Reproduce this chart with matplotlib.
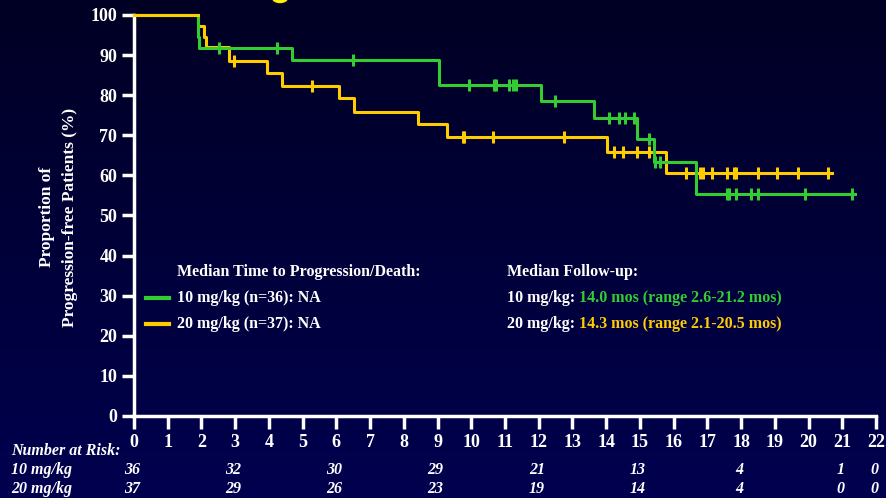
import numpy as np
import matplotlib
matplotlib.use("Agg")
import matplotlib.pyplot as plt
from matplotlib.patches import Ellipse

# Kaplan-Meier step data (months, % progression-free)
g_times = [0, 1.90, 1.93, 4.67, 9.04, 12.07, 13.63, 14.92, 15.42, 16.66]
g_surv = [100, 94.4, 91.7, 88.9, 82.6, 78.5, 74.3, 69.2, 63.3, 55.4]
g_end = 21.38
g_cens = [2.52, 4.23, 6.50, 9.93, 10.68, 10.72, 11.13, 11.25, 11.34, 12.49,
          14.09, 14.38, 14.57, 14.81, 15.26, 15.46, 15.59, 17.57, 17.65,
          17.85, 18.28, 18.49, 19.89, 21.28]

y_times = [0, 1.91, 2.08, 2.13, 2.81, 3.93, 4.39, 6.07, 6.52, 8.41, 9.28,
           14.02, 15.76]
y_surv = [100, 97.3, 94.6, 91.9, 88.6, 85.5, 82.4, 79.3, 75.9, 72.9, 69.7,
          65.8, 60.6]
y_end = 20.70
y_cens = [2.96, 5.27, 9.74, 9.78, 10.63, 12.75, 14.22, 14.51, 14.90, 15.26,
          16.37, 16.78, 16.88, 17.14, 17.58, 17.80, 17.85, 18.49, 19.06,
          19.68, 20.58]

risk_months = [0, 3, 6, 9, 12, 15, 18, 21, 22]
risk_10 = [36, 32, 30, 29, 21, 13, 4, 1, 0]
risk_20 = [37, 29, 26, 23, 19, 14, 4, 0, 0]

x_ticks = list(range(0, 23))
y_ticks = list(range(0, 101, 10))

GREEN = "#33cc33"
YELLOW = "#ffcc00"
SERIF = "Liberation Serif"

W, H = 886, 498
fig = plt.figure(figsize=(W / 100, H / 100), dpi=100)

# navy gradient background
bg = fig.add_axes([0, 0, 1, 1])
grad = np.linspace(0, 1, 256)[:, None]
top = np.array([0.0, 0.0, 0.14])
bot = np.array([0.0, 0.0, 0.31])
img = top[None, None, :] * (1 - grad[..., None]) + bot[None, None, :] * grad[..., None]
bg.imshow(img, aspect="auto", extent=[0, 1, 1, 0])
bg.set_xlim(0, 1)
bg.set_ylim(1, 0)
bg.axis("off")
# lower edge of the yellow heading glyph peeking in at the top
bg.add_patch(Ellipse((280 / W, -2 / H), 15 / W, 9 / H, color="#ffee00"))

ax = fig.add_axes([134 / W, 1 - 416 / H, (876 - 134) / W, (416 - 15) / H])
ax.set_facecolor("none")
ax.set_xlim(0, 22)
ax.set_ylim(0, 100)


def km(ax, times, surv, end, cens, color):
    xs = list(times) + [end]
    ys = list(surv) + [surv[-1]]
    ax.step(xs, ys, where="post", color=color, lw=2.2, clip_on=False, zorder=3)
    cy = [surv[np.searchsorted(times, c, side="right") - 1] for c in cens]
    ax.plot(cens, cy, linestyle="none", marker="|", markersize=8,
            markeredgewidth=2.2, color=color, clip_on=False, zorder=4)


km(ax, y_times, y_surv, y_end, y_cens, YELLOW)
km(ax, g_times, g_surv, g_end, g_cens, GREEN)
# redraw the shared start so the yellow plateau sits on top
ax.plot([0, 1.91], [100, 100], color=YELLOW, lw=2.2, clip_on=False, zorder=5)

for s in ["top", "right"]:
    ax.spines[s].set_visible(False)
for s in ["left", "bottom"]:
    ax.spines[s].set_color("white")
    ax.spines[s].set_linewidth(2.5)

ax.set_xticks(x_ticks)
ax.set_yticks(y_ticks)
ax.tick_params(colors="white", width=2.5, length=9, direction="out")
ax.tick_params(axis="x", pad=4)
ax.tick_params(axis="y", pad=3)
for lab in ax.get_xticklabels() + ax.get_yticklabels():
    lab.set_fontfamily(SERIF)
    lab.set_fontweight("bold")
    lab.set_fontsize(13)
    lab.set_color("white")

# y-axis title (two lines)
fig.text(47 / W, 1 - 217 / H, "Proportion of", rotation=90, ha="center",
         va="center", color="white", fontsize=12.5, fontweight="bold",
         family=SERIF)
fig.text(70 / W, 1 - 217 / H, "Progression-free Patients (%)", rotation=90,
         ha="center", va="center", color="white", fontsize=12.5,
         fontweight="bold", family=SERIF)

# legend block
tkw = dict(color="white", fontsize=11.5, fontweight="bold", family=SERIF,
           va="center")
fig.text(177 / W, 1 - 272 / H, "Median Time to Progression/Death:", **tkw)
fig.text(177 / W, 1 - 298 / H, "10 mg/kg (n=36): NA", **tkw)
fig.text(177 / W, 1 - 324 / H, "20 mg/kg (n=37): NA", **tkw)
bg.plot([146 / W, 169 / W], [298 / H, 298 / H], color=GREEN, lw=3)
bg.plot([146 / W, 169 / W], [324 / H, 324 / H], color=YELLOW, lw=3)

fig.text(507 / W, 1 - 272 / H, "Median Follow-up:", **tkw)
for yy, dose, detail, col in [(298, "10 mg/kg: ", "14.0 mos (range 2.6-21.2 mos)", GREEN),
                              (324, "20 mg/kg: ", "14.3 mos (range 2.1-20.5 mos)", YELLOW)]:
    t = fig.text(507 / W, 1 - yy / H, dose, **tkw)
    fig.canvas.draw()
    bb = t.get_window_extent()
    fig.text(bb.x1 / W, 1 - yy / H, detail, **{**tkw, "color": col})

# number at risk table
rkw = dict(color="white", fontsize=11.5, fontweight="bold", style="italic",
           family=SERIF, va="center")
fig.text(11 / W, 1 - 451 / H, "Number at Risk:", **rkw)
fig.text(11 / W, 1 - 470 / H, "10 mg/kg", **rkw)
fig.text(11 / W, 1 - 489 / H, "20 mg/kg", **rkw)
for m, a, b in zip(risk_months, risk_10, risk_20):
    xpix = 134 + m * (876 - 134) / 22 - 2
    fig.text(xpix / W, 1 - 470 / H, str(a), ha="center", **rkw)
    fig.text(xpix / W, 1 - 489 / H, str(b), ha="center", **rkw)

fig.savefig("out.png", dpi=100, facecolor="black")
